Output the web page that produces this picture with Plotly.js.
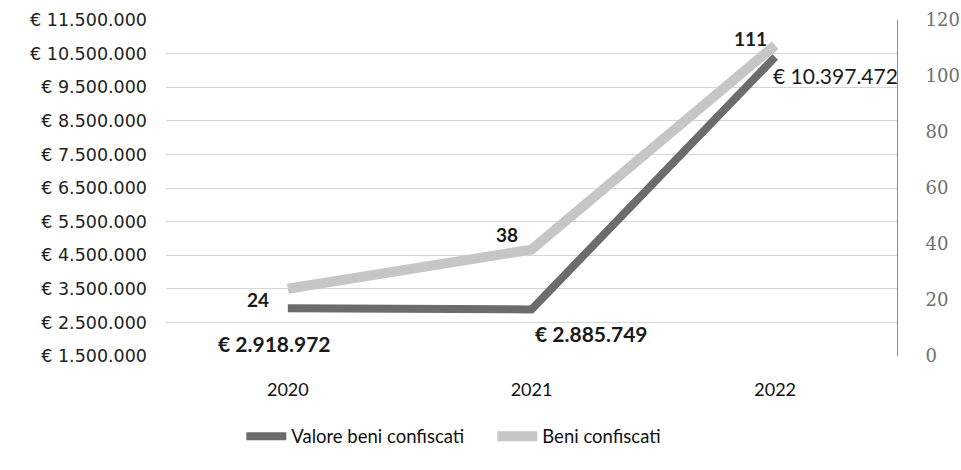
<!DOCTYPE html>
<html>
<head>
<meta charset="utf-8">
<script src="https://cdn.plot.ly/plotly-3.0.1.min.js"></script>
<style>
html,body{margin:0;padding:0;background:#fff;}
#chart{width:961px;height:470px;}
</style>
</head>
<body>
<div id="chart"></div>
<script>
var years = ["2020", "2021", "2022"];
var valoreBeni = [2918972, 2885749, 10397472];
var numeroBeni = [24, 38, 111];
var valoreLabels = ["€ 2.918.972", "€ 2.885.749", "€ 10.397.472"];
var numeroLabels = ["24", "38", "111"];
var leftTickVals = [1500000, 2500000, 3500000, 4500000, 5500000, 6500000, 7500000, 8500000, 9500000, 10500000, 11500000];
var leftTickText = ["€ 1.500.000", "€ 2.500.000", "€ 3.500.000", "€ 4.500.000", "€ 5.500.000", "€ 6.500.000", "€ 7.500.000", "€ 8.500.000", "€ 9.500.000", "€ 10.500.000", "€ 11.500.000"];
var rightTickVals = [0, 20, 40, 60, 80, 100, 120];
var seriesNames = ["Valore beni confiscati", "Beni confiscati"];

var FONT = "Lato, 'Open Sans', sans-serif";

var traces = [
  {
    x: years, y: valoreBeni, name: seriesNames[0], type: "scatter", mode: "lines",
    line: {color: "#6c6c6c", width: 8}, yaxis: "y", hoverinfo: "skip"
  },
  {
    x: years, y: numeroBeni, name: seriesNames[1], type: "scatter", mode: "lines",
    line: {color: "#c6c6c6", width: 10}, yaxis: "y2", hoverinfo: "skip"
  }
];

var valShift = [[-13, -35], [60, -24], [60, -18]];
var numShift = [[-30, -11], [-25, 15], [-25, 7]];
var valBold = [true, true, false];

var annotations = [];
for (var i = 0; i < years.length; i++) {
  annotations.push({
    x: i, y: valoreBeni[i], xref: "x", yref: "y",
    text: valBold[i] ? "<b>" + valoreLabels[i] + "</b>" : valoreLabels[i],
    showarrow: false, xshift: valShift[i][0], yshift: valShift[i][1],
    font: {family: FONT, size: 21, color: "#1a1a1a"}
  });
  annotations.push({
    x: i, y: numeroBeni[i], xref: "x", yref: "y2",
    text: "<b>" + numeroLabels[i] + "</b>",
    showarrow: false, xshift: numShift[i][0], yshift: numShift[i][1],
    font: {family: FONT, size: 19, color: "#1a1a1a"}
  });
}

var layout = {
  width: 961, height: 470,
  margin: {l: 166, r: 64, t: 20, b: 114, pad: 0},
  paper_bgcolor: "#ffffff", plot_bgcolor: "#ffffff",
  font: {family: FONT, size: 18, color: "#222"},
  showlegend: true,
  legend: {
    orientation: "h", x: 0.103, xanchor: "left", y: -0.24, yanchor: "middle",
    font: {family: FONT, size: 18.5, color: "#111"}, itemwidth: 40,
    entrywidth: 196, entrywidthmode: "pixels"
  },
  xaxis: {
    type: "category", range: [-0.5, 2.5], showgrid: false, zeroline: false,
    showline: false, ticks: "", tickfont: {family: FONT, size: 18, color: "#111"},
    ticklabelstandoff: 21
  },
  yaxis: {
    range: [1500000, 11500000], tickvals: leftTickVals, ticktext: leftTickText,
    showgrid: true, gridcolor: "#d6d6d6", gridwidth: 1, zeroline: false,
    showline: false, ticks: "", ticklabelstandoff: 18,
    tickfont: {family: "'DejaVu Sans', sans-serif", size: 17.5, color: "#222"}
  },
  yaxis2: {
    range: [0, 120], tickvals: rightTickVals, overlaying: "y", side: "right",
    showgrid: false, zeroline: false, showline: true, linecolor: "#8a8a8a", linewidth: 1,
    ticks: "", ticklabelstandoff: 24,
    tickfont: {family: "'DejaVu Serif', serif", size: 18, color: "#707070"}
  },
  annotations: annotations
};

Plotly.newPlot("chart", traces, layout, {staticPlot: true, displayModeBar: false});
</script>
</body>
</html>
